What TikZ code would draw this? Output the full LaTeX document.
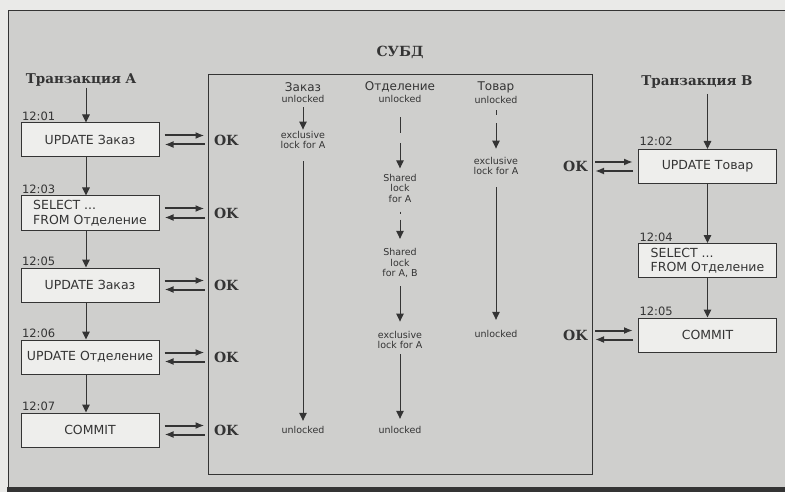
\documentclass[tikz,border=0pt]{standalone}
\usepackage{fontspec}
\setmainfont{DejaVu Serif}
\setsansfont{DejaVu Sans}
\usetikzlibrary{positioning, arrows.meta}
\definecolor{margin}{RGB}{234,234,232}
\definecolor{paper}{RGB}{207,207,205}
\definecolor{boxfill}{RGB}{238,238,236}
\definecolor{ink}{RGB}{52,52,52}
\newcommand{\okarrow}{-{Latex[length=9pt,width=7pt]}}
\newcommand{\lockarrow}{-{Triangle[length=8pt,width=7.5pt]}}
\newcommand{\pairgap}{4.5pt}

\begin{document}
\begin{tikzpicture}[x=1pt, y=-1pt, color=ink, line width=1pt,
    query/.style={draw, fill=boxfill, minimum width=138pt, minimum height=34pt,
      inner sep=2pt, align=left, font=\sffamily\fontsize{12.5}{14.5}\selectfont},
    stamp/.style={inner sep=1pt, font=\sffamily\fontsize{11.5}{12}\selectfont},
    okmark/.style={inner sep=1pt, font=\bfseries\fontsize{14}{14}\selectfont},
    headline/.style={inner sep=1pt, font=\bfseries\fontsize{13.5}{13.5}\selectfont},
    tablename/.style={inner sep=1pt, font=\sffamily\fontsize{12}{12}\selectfont},
    lockstate/.style={inner sep=1pt, align=center, font=\sffamily\fontsize{9.5}{10.5}\selectfont},
    pair/.style={line width=2pt}]
    \useasboundingbox (0,0) rectangle (785,492);
    % page
    \fill[margin] (0,0) rectangle (785,492);
    \fill[paper] (8,10) rectangle (785,488);
    \draw[line width=0.8pt] (785,10) -- (8,10) -- (8,488);
    \fill (7,487) rectangle (785,492);

    % transaction A
    \node[headline] (tranA) at (81,80) {Транзакция A};
    \node[query] (a1) at (90,140) {UPDATE Заказ};
    \node[query] (a2) at (90,213) {SELECT ...\\FROM Отделение};
    \node[query] (a3) at (90,285) {UPDATE Заказ};
    \node[query] (a4) at (90,357) {UPDATE Отделение};
    \node[query] (a5) at (90,430) {COMMIT};
    \node[stamp, above right] at (a1.north west) {12:01};
    \node[stamp, above right] at (a2.north west) {12:03};
    \node[stamp, above right] at (a3.north west) {12:05};
    \node[stamp, above right] at (a4.north west) {12:06};
    \node[stamp, above right] at (a5.north west) {12:07};
    \draw[\lockarrow] ([xshift=-4pt]a1.north |- tranA.south) -- ([xshift=-4pt]a1.north);
    \foreach \p/\q in {1/2, 2/3, 3/4, 4/5} {
        \draw[\lockarrow] ([xshift=-4pt]a\p.south) -- ([xshift=-4pt]a\q.north);
    }
    \foreach \q in {1,...,5} {
        \node[okmark, right=53pt of a\q] (okA\q) {OK};
        \draw[pair, \okarrow] ([shift={(5pt,\pairgap)}]a\q.east) -- ([shift={(-8pt,\pairgap)}]okA\q.west);
        \draw[pair, \okarrow] ([shift={(-8pt,-\pairgap)}]okA\q.west) -- ([shift={(5pt,-\pairgap)}]a\q.east);
    }

    % DBMS
    \node[draw, inner sep=0pt, minimum width=384pt, minimum height=399pt] (dbms) at (400,274.5) {};
    \node[headline, font=\bfseries\fontsize{14}{14}\selectfont] (dbmsname) at (400,52) {СУБД};

    % table Заказ
    \node[tablename] (zakName) at (303,87) {Заказ};
    \node[lockstate] (zakFree) at (303,99) {unlocked};
    \node[lockstate] (zakExA) at (303,140) {exclusive\\lock for A};
    \node[lockstate] (zakEnd) at (303,430) {unlocked};
    \draw[\lockarrow, shorten <=3pt] (zakFree) -- (zakExA);
    \draw[\lockarrow, shorten <=11pt, shorten >=4pt] (zakExA) -- (zakEnd);

    % table Отделение
    \node[tablename] (otdName) at (400,87) {Отделение};
    \node[lockstate] (otdFree) at (400,99) {unlocked};
    \node[lockstate] (otdShA) at (400,188) {Shared\\lock\\for A};
    \node[lockstate] (otdShAB) at (400,263) {Shared\\lock\\for A, B};
    \node[lockstate] (otdExA) at (400,340) {exclusive\\lock for A};
    \node[lockstate] (otdEnd) at (400,430) {unlocked};
    \draw[\lockarrow, dash pattern=on 0pt off 13pt on 16pt off 10pt on 60pt, shorten >=4pt] (otdFree) -- (otdShA);
    \draw[\lockarrow, dash pattern=on 0pt off 8pt on 2pt off 6pt on 40pt, shorten >=8pt] (otdShA) -- (otdShAB);
    \draw[\lockarrow, shorten <=7pt, shorten >=8pt] (otdShAB) -- (otdExA);
    \draw[\lockarrow, shorten <=4pt, shorten >=6pt] (otdExA) -- (otdEnd);

    % table Товар
    \node[tablename] (towName) at (496,87) {Товар};
    \node[lockstate] (towFree) at (496,100) {unlocked};
    \node[lockstate] (towExA) at (496,166) {exclusive\\lock for A};
    \node[lockstate] (towEnd) at (496,334) {unlocked};
    \draw[\lockarrow, dash pattern=on 0pt off 5pt on 5pt off 8pt on 40pt, shorten >=7pt] (towFree) -- (towExA);
    \draw[\lockarrow, shorten <=11pt, shorten >=9pt] (towExA) -- (towEnd);

    % transaction B
    \node[headline] (tranB) at (697,82) {Транзакция B};
    \node[query] (b1) at (707.5,166.5) {UPDATE Товар};
    \node[query] (b2) at (707.5,260.5) {SELECT ...\\FROM Отделение};
    \node[query] (b3) at (707.5,335) {COMMIT};
    \node[stamp, above right=2pt and 0pt] at (b1.north west) {12:02};
    \node[stamp, above right] at (b2.north west) {12:04};
    \node[stamp, above right] at (b3.north west) {12:05};
    \draw[\lockarrow, shorten <=4pt] (b1.north |- tranB.south) -- (b1.north);
    \draw[\lockarrow] (b1) -- (b2);
    \draw[\lockarrow] (b2) -- (b3);
    \foreach \q in {1,3} {
        \node[okmark, left=49pt of b\q] (okB\q) {OK};
        \draw[pair, \okarrow] ([shift={(6pt,\pairgap)}]okB\q.east) -- ([shift={(-5pt,\pairgap)}]b\q.west);
        \draw[pair, \okarrow] ([shift={(-5pt,-\pairgap)}]b\q.west) -- ([shift={(6pt,-\pairgap)}]okB\q.east);
    }
\end{tikzpicture}
\end{document}
